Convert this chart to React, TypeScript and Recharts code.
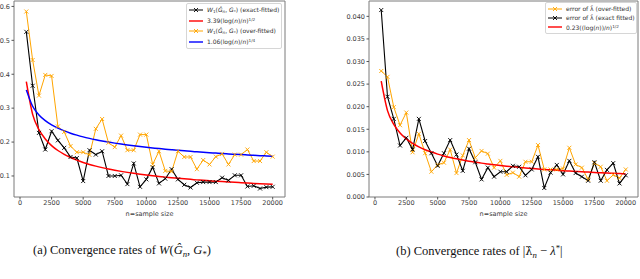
import React from 'react';
import { LineChart, Line, XAxis, YAxis, ReferenceArea, Legend } from 'recharts';

const sampleSizes = [500, 1000, 1500, 2000, 2500, 3000, 3500, 4000, 4500, 5000, 5500, 6000, 6500, 7000, 7500, 8000, 8500, 9000, 9500, 10000, 10500, 11000, 11500, 12000, 12500, 13000, 13500, 14000, 14500, 15000, 15500, 16000, 16500, 17000, 17500, 18000, 18500, 19000, 19500, 20000];

// (a) W1 distances
const wExact = [0.525, 0.366, 0.227, 0.178, 0.232, 0.205, 0.183, 0.156, 0.153, 0.085, 0.176, 0.163, 0.173, 0.1, 0.1, 0.102, 0.076, 0.137, 0.068, 0.09, 0.126, 0.078, 0.092, 0.12, 0.09, 0.074, 0.066, 0.08, 0.082, 0.082, 0.082, 0.095, 0.087, 0.102, 0.102, 0.069, 0.071, 0.063, 0.067, 0.068];
const wOver = [0.585, 0.442, 0.337, 0.398, 0.395, 0.246, 0.23, 0.188, 0.17, 0.17, 0.162, 0.239, 0.268, 0.198, 0.185, 0.219, 0.176, 0.176, 0.222, 0.222, 0.134, 0.173, 0.115, 0.113, 0.173, 0.156, 0.156, 0.12, 0.147, 0.134, 0.157, 0.165, 0.134, 0.163, 0.163, 0.178, 0.144, 0.144, 0.17, 0.157];
const wRateHalf = [0.378, 0.2817, 0.2367, 0.209, 0.1896, 0.1751, 0.1637, 0.1544, 0.1466, 0.1399, 0.1341, 0.1291, 0.1246, 0.1205, 0.1169, 0.1136, 0.1106, 0.1078, 0.1053, 0.1029, 0.1007, 0.0986, 0.0966, 0.0949, 0.0931, 0.0915, 0.09, 0.0885, 0.0872, 0.0858, 0.0846, 0.0834, 0.0822, 0.0812, 0.0801, 0.0791, 0.0781, 0.0772, 0.0763, 0.0754];
const wRateQuarter = [0.3539, 0.3056, 0.2801, 0.2632, 0.2507, 0.2409, 0.2329, 0.2262, 0.2204, 0.2153, 0.2109, 0.2069, 0.2032, 0.1999, 0.1969, 0.1941, 0.1915, 0.1891, 0.1868, 0.1847, 0.1827, 0.1808, 0.179, 0.1773, 0.1757, 0.1741, 0.1727, 0.1713, 0.17, 0.1687, 0.1674, 0.1663, 0.1651, 0.164, 0.163, 0.1619, 0.1609, 0.16, 0.159, 0.1581];

// (b) lambda errors
const lamOver = [0.0279, 0.0266, 0.0199, 0.0159, 0.0187, 0.0099, 0.014, 0.0097, 0.0056, 0.0071, 0.0076, 0.0105, 0.0053, 0.0092, 0.0126, 0.0087, 0.0102, 0.0096, 0.0065, 0.008, 0.0049, 0.0054, 0.0045, 0.0078, 0.0078, 0.0115, 0.0061, 0.0061, 0.0061, 0.0063, 0.0109, 0.0072, 0.0065, 0.0039, 0.0075, 0.0067, 0.0036, 0.0049, 0.0042, 0.0061];
const lamExact = [0.0414, 0.0222, 0.0173, 0.0114, 0.0131, 0.0105, 0.0173, 0.0124, 0.0097, 0.0069, 0.0097, 0.0126, 0.0094, 0.0058, 0.0107, 0.0077, 0.0039, 0.0065, 0.0045, 0.0056, 0.0056, 0.0069, 0.0067, 0.0048, 0.0061, 0.0089, 0.002, 0.0054, 0.0071, 0.005, 0.008, 0.0053, 0.0045, 0.0036, 0.0077, 0.0036, 0.006, 0.0075, 0.003, 0.0048];
const lamRate = [0.02564, 0.01912, 0.01606, 0.01418, 0.01287, 0.01188, 0.01111, 0.01047, 0.00995, 0.00949, 0.0091, 0.00876, 0.00845, 0.00818, 0.00793, 0.00771, 0.0075, 0.00732, 0.00714, 0.00698, 0.00683, 0.00669, 0.00656, 0.00644, 0.00632, 0.00621, 0.0061, 0.00601, 0.00591, 0.00582, 0.00574, 0.00566, 0.00558, 0.00551, 0.00543, 0.00537, 0.0053, 0.00524, 0.00518, 0.00512];

const xTicks = [0, 2500, 5000, 7500, 10000, 12500, 15000, 17500, 20000];
const yTicksA = [0.1, 0.2, 0.3, 0.4, 0.5, 0.6];
const yTicksB = [0, 0.005, 0.01, 0.015, 0.02, 0.025, 0.03, 0.035, 0.04];

const dataA = sampleSizes.map((n, i) => ({ n, exact: wExact[i], over: wOver[i], half: wRateHalf[i], quarter: wRateQuarter[i] }));
const dataB = sampleSizes.map((n, i) => ({ n, over: lamOver[i], exact: lamExact[i], rate: lamRate[i] }));

const X_DOMAIN: [number, number] = [-475, 20975];
const YA_DOMAIN: [number, number] = [0.038, 0.616];
const YB_DOMAIN: [number, number] = [0.0, 0.0434];

const SANS = 'DejaVu Sans, sans-serif';
const tickStyle = { fontSize: 6.5, fill: '#3a3a3a', fontFamily: SANS };

const makeX = (color: string) => (props: any) => {
  const { cx, cy, index } = props;
  if (cx == null || cy == null) return <g key={`e-${index}`} />;
  const s = 2;
  return (
    <path
      key={`x-${color}-${index}`}
      d={`M${cx - s},${cy - s}L${cx + s},${cy + s}M${cx - s},${cy + s}L${cx + s},${cy - s}`}
      stroke={color}
      strokeWidth={0.9}
      fill="none"
    />
  );
};

const Sup = ({ children }: { children: React.ReactNode }) => (
  <span style={{ fontSize: '0.7em', verticalAlign: '0.45em' }}>{children}</span>
);
const Sub = ({ children }: { children: React.ReactNode }) => (
  <span style={{ fontSize: '0.7em', verticalAlign: '-0.3em' }}>{children}</span>
);
const I = ({ children }: { children: React.ReactNode }) => <span style={{ fontStyle: 'italic' }}>{children}</span>;

type LegendItem = { color: string; marker: boolean; label: React.ReactNode };

const LegendBox = ({ items, rowH }: { items: LegendItem[]; rowH: number }) => (
  <div
    style={{
      background: '#fff',
      border: '1px solid #d6d6d6',
      borderRadius: 2,
      padding: '1px 3px 1px 2px',
      fontFamily: SANS,
      fontSize: 6,
      color: '#333',
      whiteSpace: 'nowrap',
      boxSizing: 'border-box',
    }}
  >
    {items.map((it, k) => (
      <div key={k} style={{ height: rowH, display: 'flex', alignItems: 'center' }}>
        <svg width={14} height={6} style={{ marginRight: 4, flex: 'none' }}>
          <line x1={0} y1={3} x2={14} y2={3} stroke={it.color} strokeWidth={it.marker ? 1 : 1.4} />
          {it.marker && <path d="M5,1L9,5M5,5L9,1" stroke={it.color} strokeWidth={0.9} />}
        </svg>
        <span>{it.label}</span>
      </div>
    ))}
  </div>
);

const legendA: LegendItem[] = [
  { color: '#000000', marker: true, label: <><I>W</I><Sub>1</Sub>(<I>Ĝ</I><Sub><I>n</I></Sub>, <I>G</I><Sub>*</Sub>) (exact-fitted)</> },
  { color: '#ff0000', marker: false, label: <>3.39(log(<I>n</I>)/<I>n</I>)<Sup>1/2</Sup></> },
  { color: '#ffa500', marker: true, label: <><I>W</I><Sub>1</Sub>(<I>Ĝ</I><Sub><I>n</I></Sub>, <I>G</I><Sub>*</Sub>) (over-fitted)</> },
  { color: '#0000ff', marker: false, label: <>1.06(log(<I>n</I>)/<I>n</I>)<Sup>1/4</Sup></> },
];

const legendB: LegendItem[] = [
  { color: '#ffa500', marker: true, label: <>error of λ̂ (over-fitted)</> },
  { color: '#000000', marker: true, label: <>error of λ̂ (exact fitted)</> },
  { color: '#ff0000', marker: false, label: <>0.23((log(<I>n</I>))/<I>n</I>)<Sup>1/2</Sup></> },
];

const axisLabel = { value: 'n=sample size', position: 'insideBottom' as const, offset: 1, style: { fontSize: 6.5, fill: '#3a3a3a', fontFamily: SANS } };

const captionStyle: React.CSSProperties = { position: 'absolute', top: 243, fontFamily: 'Liberation Serif, serif', fontSize: 12.5, color: '#111', whiteSpace: 'nowrap' };

export default function App() {
  return (
    <div style={{ position: 'absolute', left: 0, top: 0, width: 640, height: 279, background: '#fff', overflow: 'hidden' }}>
      <div style={{ position: 'absolute', left: 0, top: 0 }}>
        <LineChart width={300} height={230} data={dataA} margin={{ top: 1, right: 15, bottom: 13, left: 0 }}>
          <XAxis
            dataKey="n"
            type="number"
            domain={X_DOMAIN}
            ticks={xTicks}
            allowDataOverflow
            height={20}
            tickSize={2.5}
            tickMargin={1}
            axisLine={false}
            tickLine={{ stroke: '#555' }}
            tick={tickStyle}
            label={axisLabel}
          />
          <YAxis
            type="number"
            domain={YA_DOMAIN}
            ticks={yTicksA}
            allowDataOverflow
            width={14}
            tickSize={2.5}
            tickMargin={1.5}
            axisLine={false}
            tickLine={{ stroke: '#555' }}
            tick={tickStyle}
            tickFormatter={(v: number) => v.toFixed(1)}
          />
          <ReferenceArea x1={X_DOMAIN[0]} x2={X_DOMAIN[1]} y1={YA_DOMAIN[0]} y2={YA_DOMAIN[1]} fill="none" fillOpacity={0} stroke="#7a7a7a" strokeWidth={1} />
          <Line dataKey="exact" stroke="#000" strokeWidth={1.1} dot={makeX('#000')} isAnimationActive={false} type="linear" />
          <Line dataKey="half" stroke="#ff0000" strokeWidth={1.5} dot={false} isAnimationActive={false} type="monotone" />
          <Line dataKey="over" stroke="#ffa500" strokeWidth={1} dot={makeX('#ffa500')} isAnimationActive={false} type="linear" />
          <Line dataKey="quarter" stroke="#0000ff" strokeWidth={1.5} dot={false} isAnimationActive={false} type="monotone" />
          <Legend
            layout="vertical"
            align="center"
            verticalAlign="middle"
            wrapperStyle={{ position: 'absolute', top: 3, left: 186, width: 96, height: 45, margin: 0 }}
            content={() => <LegendBox items={legendA} rowH={10.5} />}
          />
        </LineChart>
      </div>
      <div style={{ position: 'absolute', left: 320, top: 0 }}>
        <LineChart width={320} height={230} data={dataB} margin={{ top: 1, right: 2, bottom: 13, left: 29 }}>
          <XAxis
            dataKey="n"
            type="number"
            domain={X_DOMAIN}
            ticks={xTicks}
            allowDataOverflow
            height={20}
            tickSize={2.5}
            tickMargin={1}
            axisLine={false}
            tickLine={{ stroke: '#555' }}
            tick={tickStyle}
            label={axisLabel}
          />
          <YAxis
            type="number"
            domain={YB_DOMAIN}
            ticks={yTicksB}
            allowDataOverflow
            width={20}
            tickSize={2.5}
            tickMargin={1.5}
            axisLine={false}
            tickLine={{ stroke: '#555' }}
            tick={tickStyle}
            tickFormatter={(v: number) => v.toFixed(3)}
          />
          <ReferenceArea x1={X_DOMAIN[0]} x2={X_DOMAIN[1]} y1={YB_DOMAIN[0]} y2={YB_DOMAIN[1]} fill="none" fillOpacity={0} stroke="#7a7a7a" strokeWidth={1} />
          <Line dataKey="over" stroke="#ffa500" strokeWidth={1} dot={makeX('#ffa500')} isAnimationActive={false} type="linear" />
          <Line dataKey="exact" stroke="#000" strokeWidth={1.1} dot={makeX('#000')} isAnimationActive={false} type="linear" />
          <Line dataKey="rate" stroke="#ff0000" strokeWidth={1.5} dot={false} isAnimationActive={false} type="monotone" />
          <Legend
            layout="vertical"
            align="center"
            verticalAlign="middle"
            wrapperStyle={{ position: 'absolute', top: 2, left: 225, width: 92, height: 32, margin: 0 }}
            content={() => <LegendBox items={legendB} rowH={9.3} />}
          />
        </LineChart>
      </div>
      <div style={{ ...captionStyle, left: 33 }}>
        (a) Convergence rates of <I>W</I>(<I>Ĝ</I><Sub><I>n</I></Sub>, <I>G</I><Sub>*</Sub>)
      </div>
      <div style={{ ...captionStyle, left: 396 }}>
        (b) Convergence rates of |<span style={{ fontFamily: 'DejaVu Serif, serif', fontSize: 11.5 }}>λ̂</span><Sub><I>n</I></Sub> − <I>λ</I><Sup>*</Sup>|
      </div>
    </div>
  );
}
